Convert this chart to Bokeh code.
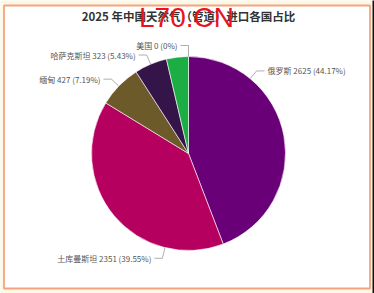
import math
from bokeh.plotting import figure
from bokeh.models import Range1d, ColumnDataSource
from bokeh.core.properties import value
from bokeh.embed import file_html
from bokeh.resources import INLINE

# ---- data ----
title = "2025 年中国天然气（管道）进口各国占比"
names = ["俄罗斯", "土库曼斯坦", "缅甸", "哈萨克斯坦", "其他", "美国"]
values = [2625, 2351, 427, 323, 217, 0]
shares = ["44.17%", "39.55%", "7.19%", "5.43%", "", "0%"]
colors = ["#6a0077", "#b6005f", "#6d5a2b", "#35144a", "#1cad44", "#2f6fd0"]
show_label = [True, True, True, True, False, True]

# ---- layout ----
W, H = 374, 293
CX, CY, R = 188, 153, 97
# label anchor angles (deg, math convention) as laid out in the reference
label_angle = [50.5, 256, 136, 113, None, 90]
label_r1 = [107, 108, 107, 107, None, 108]

def Y(y):
    return H - y

p = figure(width=W, height=H, output_backend="svg", toolbar_location=None,
           x_range=Range1d(0, W), y_range=Range1d(0, H), min_border=0,
           outline_line_color=None, background_fill_color="#fdf8e6",
           border_fill_color="#fdf8e6")
p.xaxis.visible = False
p.yaxis.visible = False
p.xgrid.visible = False
p.ygrid.visible = False

# right-edge dark strip and panel
p.quad(left=[372], right=[W + 1], bottom=[-1], top=[H + 1], fill_color="#111111", line_color=None)
p.quad(left=[3.5], right=[369.5], bottom=[Y(288)], top=[Y(5)], fill_color="white",
       line_color="#f3a37f", line_width=1.8)

# wedges (clockwise from top), zero-valued slices are not drawn
total = sum(values)
starts, ends, cols, nms = [], [], [], []
acc = 0.0
for v, c, n in zip(values, colors, names):
    a0 = math.pi / 2 - 2 * math.pi * acc / total
    acc += v
    a1 = math.pi / 2 - 2 * math.pi * acc / total
    if v <= 0:
        continue
    starts.append(a1)
    ends.append(a0)
    cols.append(c)
    nms.append(n)
src = ColumnDataSource(dict(start=starts, end=ends, color=cols, name=nms))
p.wedge(x=CX, y=Y(CY), radius=R, start_angle="start", end_angle="end",
        fill_color="color", line_color="white", line_width=0.6, source=src)

# labels with leader lines
for i, n in enumerate(names):
    if not show_label[i]:
        continue
    a = math.radians(label_angle[i])
    x0, y0 = CX + R * math.cos(a), CY - R * math.sin(a)
    r1 = label_r1[i]
    x1, y1 = CX + r1 * math.cos(a), CY - r1 * math.sin(a)
    right = math.cos(a) > 0.01
    x2 = x1 + (8 if right else -8)
    p.line([x0, x1, x2], [Y(y0), Y(y1), Y(y1)], line_color="#9a9a9a", line_width=0.8)
    txt = f"{n} {values[i]} ({shares[i]})"
    p.text(x=[x2 + (3 if right else -3)], y=[Y(y1)], text=[txt],
           text_align="left" if right else "right", text_baseline="middle",
           text_font=value("Noto Sans CJK SC"), text_font_size="8px", text_color="#555555")

# title
p.text(x=[188], y=[Y(15)], text=[title], text_align="center", text_baseline="middle",
       text_font=value("Noto Sans CJK SC"), text_font_size="11.5px", text_font_style="bold",
       text_color="#333333")

# watermark
p.text(x=[186], y=[Y(17)], text=["L70.CN"], text_align="center", text_baseline="middle",
       text_font=value("Liberation Sans"), text_font_size="28px", text_color="#e8141c")

open("out.html", "w").write(file_html(p, INLINE))
